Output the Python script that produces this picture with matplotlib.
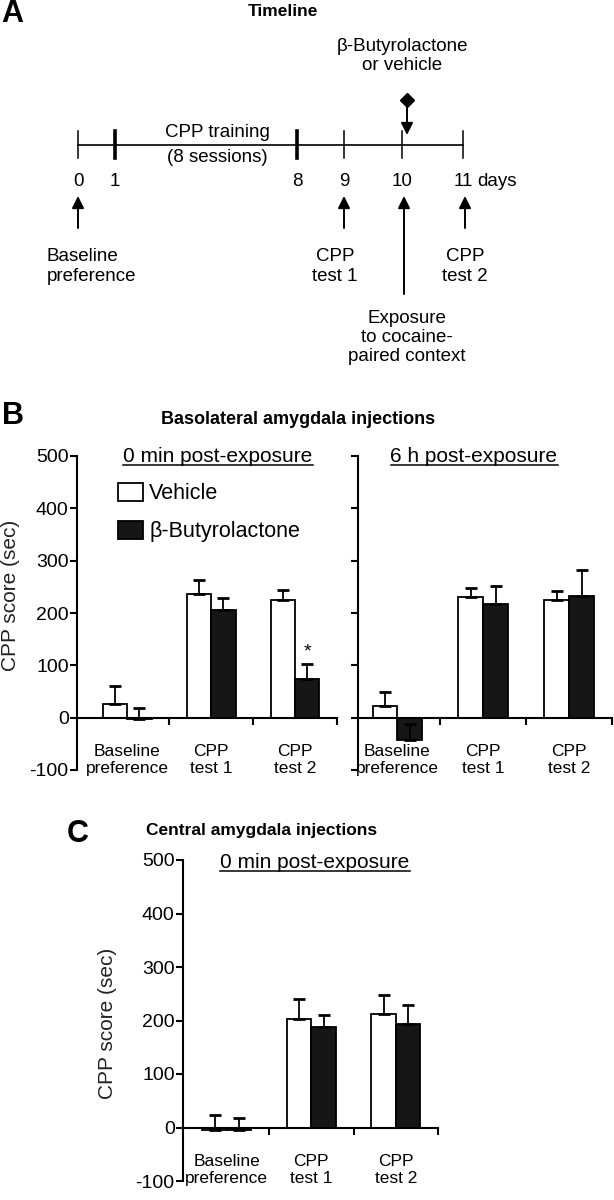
import matplotlib
matplotlib.use('Agg')
import matplotlib.pyplot as plt
import numpy as np
from matplotlib.lines import Line2D

plt.rcParams['font.family'] = ['Liberation Sans', 'DejaVu Sans']
plt.rcParams['axes.unicode_minus'] = False

# ---- data ----
categories = ['Baseline\npreference', 'CPP\ntest 1', 'CPP\ntest 2']
series_names = ['Vehicle', 'β-Butyrolactone']

# B, basolateral amygdala, 0 min post-exposure
bla0_veh = [27, 236, 225]
bla0_veh_err = [34, 27, 18]
bla0_but = [-3, 206, 74]
bla0_but_err = [21, 22, 29]

# B, basolateral amygdala, 6 h post-exposure
bla6_veh = [22, 230, 224]
bla6_veh_err = [27, 18, 18]
bla6_but = [-42, 218, 232]
bla6_but_err = [29, 33, 50]

# C, central amygdala, 0 min post-exposure
cea_veh = [-5, 203, 213]
cea_veh_err = [28, 37, 34]
cea_but = [-5, 187, 194]
cea_but_err = [23, 23, 35]

yticks = [-100, 0, 100, 200, 300, 400, 500]

# timeline (schematic)
day_labels = ['0', '1', '8', '9', '10', '11']
day_xpos = [78, 115, 297, 344, 402, 463]   # schematic positions (px)
thick_days = ['1', '8']

W, H = 614, 1200
fig = plt.figure(figsize=(W / 100, H / 100), dpi=100)


def px_axes(left, top, right, bottom):
    return fig.add_axes([left / W, 1 - bottom / H, (right - left) / W, (bottom - top) / H])


def ftext(x, y, s, **kw):
    return fig.text(x / W, 1 - y / H, s, **kw)


# ---------------- A: timeline ----------------
axA = fig.add_axes([0, 1 - 380 / H, 1, 380 / H])
axA.set_xlim(0, W)
axA.set_ylim(380, 0)
axA.axis('off')

ly = 145
axA.plot([day_xpos[0], day_xpos[-1]], [ly, ly], color='black', lw=1.2)
for lab, x in zip(day_labels, day_xpos):
    axA.plot([x, x], [131, 158], color='black', lw=2.6 if lab in thick_days else 1.1)
    axA.text(x, 182, lab, ha='center', va='center', fontsize=13.5)
axA.text(day_xpos[-1] + 14, 182, 'days', ha='left', va='center', fontsize=13.5)

axA.text(217, 145, 'CPP training\n(8 sessions)', ha='center', va='center',
         fontsize=13.5, linespacing=1.55)

arrow = dict(arrowstyle='-|>', lw=1.4, color='black', mutation_scale=18, shrinkA=0, shrinkB=0)
for x in (day_xpos[0], day_xpos[3], day_xpos[5] + 2):
    axA.annotate('', xy=(x, 196), xytext=(x, 228), arrowprops=arrow)
axA.annotate('', xy=(404, 196), xytext=(404, 294), arrowprops=arrow)

# injection marker
axA.plot([407], [100], marker='D', color='black', markersize=7)
axA.annotate('', xy=(407, 135), xytext=(407, 103), arrowprops=arrow)

axA.text(47, 248, 'Baseline\npreference', ha='left', va='top', fontsize=13.5, linespacing=1.2)
axA.text(335, 248, 'CPP\ntest 1', ha='center', va='top', fontsize=13.5, linespacing=1.2)
axA.text(465, 248, 'CPP\ntest 2', ha='center', va='top', fontsize=13.5, linespacing=1.2)
axA.text(407, 310, 'Exposure\nto cocaine-\npaired context', ha='center', va='top',
         fontsize=13.5, linespacing=1.15)
axA.text(402, 56, 'β-Butyrolactone\nor vehicle', ha='center', va='center',
         fontsize=13.5, linespacing=1.2)

ftext(283, 11, 'Timeline', ha='center', va='center', fontsize=12.5, fontweight='bold')
ftext(1, 14, 'A', ha='left', va='center', fontsize=22, fontweight='bold')


# ---------------- bar panels ----------------
def bar_panel(ax, veh, veh_err, but, but_err, xleft, show_ylab):
    x = np.arange(len(categories))
    w = 0.29
    b1 = ax.bar(x - w / 2, veh, w, color='white', edgecolor='black', lw=1.3, zorder=2)
    b2 = ax.bar(x + w / 2, but, w, color='#161616', edgecolor='black', lw=1.3, zorder=2)
    ax.errorbar(x - w / 2, veh, yerr=[np.zeros(3), veh_err], fmt='none', ecolor='black',
                elinewidth=1.3, capsize=4.5, capthick=2, zorder=3)
    ax.errorbar(x + w / 2, but, yerr=[np.zeros(3), but_err], fmt='none', ecolor='black',
                elinewidth=1.3, capsize=4.5, capthick=2, zorder=3)
    ax.set_xlim(xleft, 2.5)
    ax.set_ylim(-100, 500)
    ax.set_yticks(yticks)
    for s in ('top', 'right'):
        ax.spines[s].set_visible(False)
    ax.spines['bottom'].set_position(('data', 0))
    for s in ('left', 'bottom'):
        ax.spines[s].set_linewidth(1.5)
    ax.set_xticks([0.5, 1.5, 2.5])
    ax.set_xticklabels([])
    ax.tick_params(axis='both', direction='out', length=5, width=1.5, labelsize=14, pad=1)
    if not show_ylab:
        ax.tick_params(axis='y', labelleft=False)
    for i, c in enumerate(categories):
        ax.text(i, -50, c, ha='center', va='top', fontsize=12.5, linespacing=1.15)
    ax.patch.set_alpha(0)
    return b1, b2


axB1 = px_axes(77, 456, 337, 770)
hb1, hb2 = bar_panel(axB1, bla0_veh, bla0_veh_err, bla0_but, bla0_but_err, -0.6, True)
axB1.set_ylabel('CPP score (sec)', fontsize=15, color='#222222')
axB1.yaxis.set_label_coords(-0.219, 0.557)
axB1.text(2 + 0.145, bla0_but[2] + bla0_but_err[2] + 6, '*', ha='center', va='bottom',
          fontsize=14)
axB1.legend([hb1, hb2], series_names, loc='upper left', bbox_to_anchor=(0.158, 0.915),
            frameon=False, fontsize=15.5, handlelength=1.15, handleheight=0.95,
            handletextpad=0.3, labelspacing=0.75, borderpad=0, borderaxespad=0)

axB2 = px_axes(358, 456, 612, 770)
bar_panel(axB2, bla6_veh, bla6_veh_err, bla6_but, bla6_but_err, -0.46, False)

ftext(298, 420, 'Basolateral amygdala injections', ha='center', va='center',
      fontsize=13, fontweight='bold')
ftext(2, 416, 'B', ha='left', va='center', fontsize=22, fontweight='bold')

axC = px_axes(183, 860, 438, 1181)
bar_panel(axC, cea_veh, cea_veh_err, cea_but, cea_but_err, -0.52, True)
axC.set_ylabel('CPP score (sec)', fontsize=15, color='#222222')
axC.yaxis.set_label_coords(-0.259, 0.492)

ftext(262, 830, 'Central amygdala injections', ha='center', va='center',
      fontsize=12.5, fontweight='bold')
ftext(67, 834, 'C', ha='left', va='center', fontsize=22, fontweight='bold')

# underlined sub-headings
subs = [ftext(218, 457, '0 min post-exposure', ha='center', va='center', fontsize=15),
        ftext(474, 457, '6 h post-exposure', ha='center', va='center', fontsize=15),
        ftext(315, 863, '0 min post-exposure', ha='center', va='center', fontsize=15)]
fig.canvas.draw()
r = fig.canvas.get_renderer()
inv = fig.transFigure.inverted()
for t in subs:
    bb = t.get_window_extent(r)
    (x0, y0), (x1, _) = inv.transform([[bb.x0, bb.y0], [bb.x1, bb.y1]])
    fig.add_artist(Line2D([x0, x1], [y0 + 1 / H, y0 + 1 / H], transform=fig.transFigure,
                          color='black', lw=1.1))

fig.savefig('out.png', dpi=100)
